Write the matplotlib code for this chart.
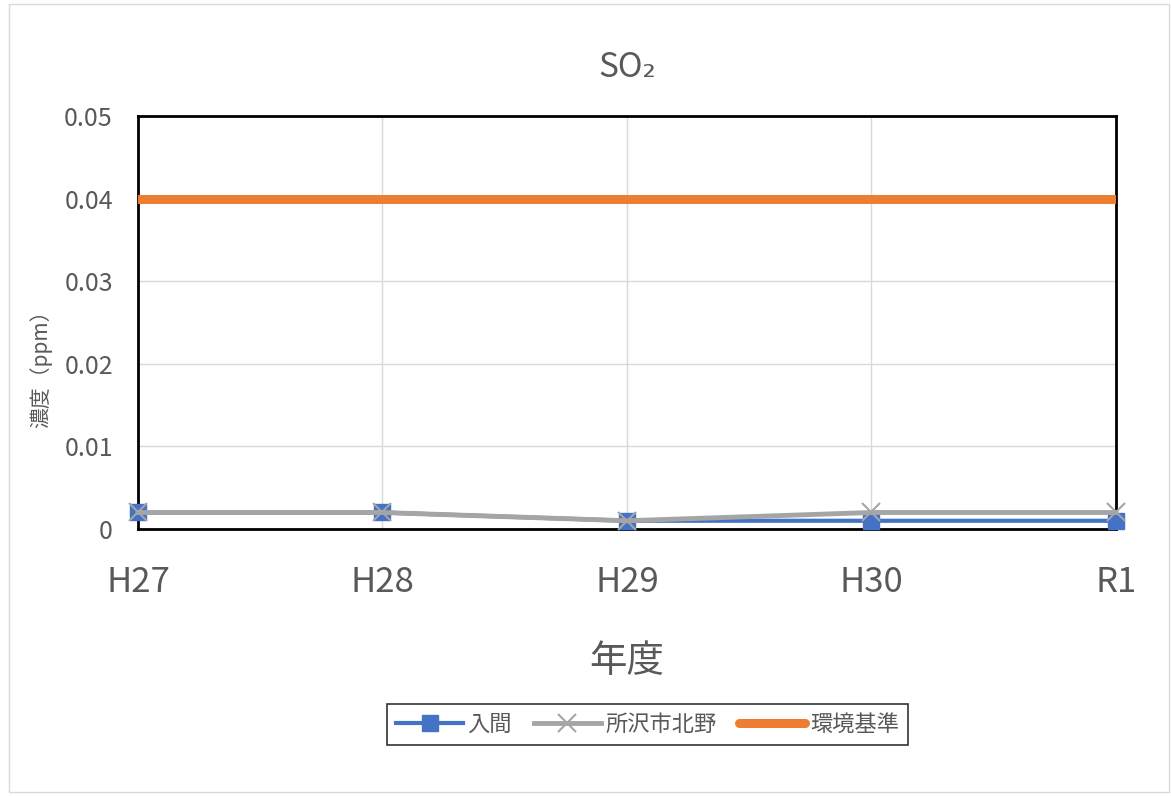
import numpy as np
import matplotlib.pyplot as plt

plt.rcParams['font.family'] = ['Noto Sans CJK JP', 'DejaVu Sans']

# データ
nendo = ['H27', 'H28', 'H29', 'H30', 'R1']
iruma = [0.002, 0.002, 0.001, 0.001, 0.001]
tokorozawa = [0.002, 0.002, 0.001, 0.002, 0.002]
kijun = [0.04, 0.04, 0.04, 0.04, 0.04]

text_color = '#595959'
x = np.arange(len(nendo))

fig = plt.figure(figsize=(11.71, 7.96), dpi=100)
ax = fig.add_axes([0.1178, 0.3354, 0.8352, 0.5189])

# 外枠
fig.patches.append(plt.Rectangle((0.008, 0.005), 0.99, 0.99, transform=fig.transFigure,
                                 fill=False, edgecolor='#D9D9D9', linewidth=1))

ax.plot(x, kijun, color='#ED7D31', linewidth=6.5, solid_capstyle='round',
        label='環境基準', zorder=3)
ax.plot(x, iruma, color='#4472C4', linewidth=3, marker='s', markersize=11,
        label='入間', zorder=4, clip_on=False)
ax.plot(x, tokorozawa, color='#A5A5A5', linewidth=3.5, marker='x', markersize=13,
        markeredgewidth=1.5, label='所沢市北野', zorder=5, clip_on=False)

ax.set_xlim(0, 4)
ax.set_ylim(0, 0.05)
ax.set_yticks([0, 0.01, 0.02, 0.03, 0.04, 0.05])
ax.set_yticklabels(['0', '0.01', '0.02', '0.03', '0.04', '0.05'])
ax.set_xticks(x)
ax.set_xticklabels(nendo)
ax.grid(True, color='#D9D9D9', linewidth=1)
ax.set_axisbelow(True)

for s in ax.spines.values():
    s.set_color('black')
    s.set_linewidth(2)

ax.tick_params(axis='y', length=0, labelsize=18, colors=text_color, pad=18)
ax.tick_params(axis='x', length=0, labelsize=25, colors=text_color, pad=26)

ax.set_title('SO₂', fontsize=24, color=text_color, pad=28)
ax.set_xlabel('年度', fontsize=27, color=text_color, labelpad=30)
ax.set_ylabel('濃度（ppm）', fontsize=15, color=text_color)
ax.yaxis.set_label_coords(-0.088, 0.4)

handles, labels = ax.get_legend_handles_labels()
order = [1, 2, 0]
leg = fig.legend([handles[i] for i in order], [labels[i] for i in order],
                 loc='center', bbox_to_anchor=(0.553, 0.09), ncol=3,
                 fontsize=16, frameon=True, fancybox=False, edgecolor='black',
                 handlelength=3.0, columnspacing=1.0, handletextpad=0.2,
                 borderpad=0.4)
leg.get_frame().set_linewidth(1.2)
for t in leg.get_texts():
    t.set_color(text_color)

fig.savefig('out.png', dpi=100)
